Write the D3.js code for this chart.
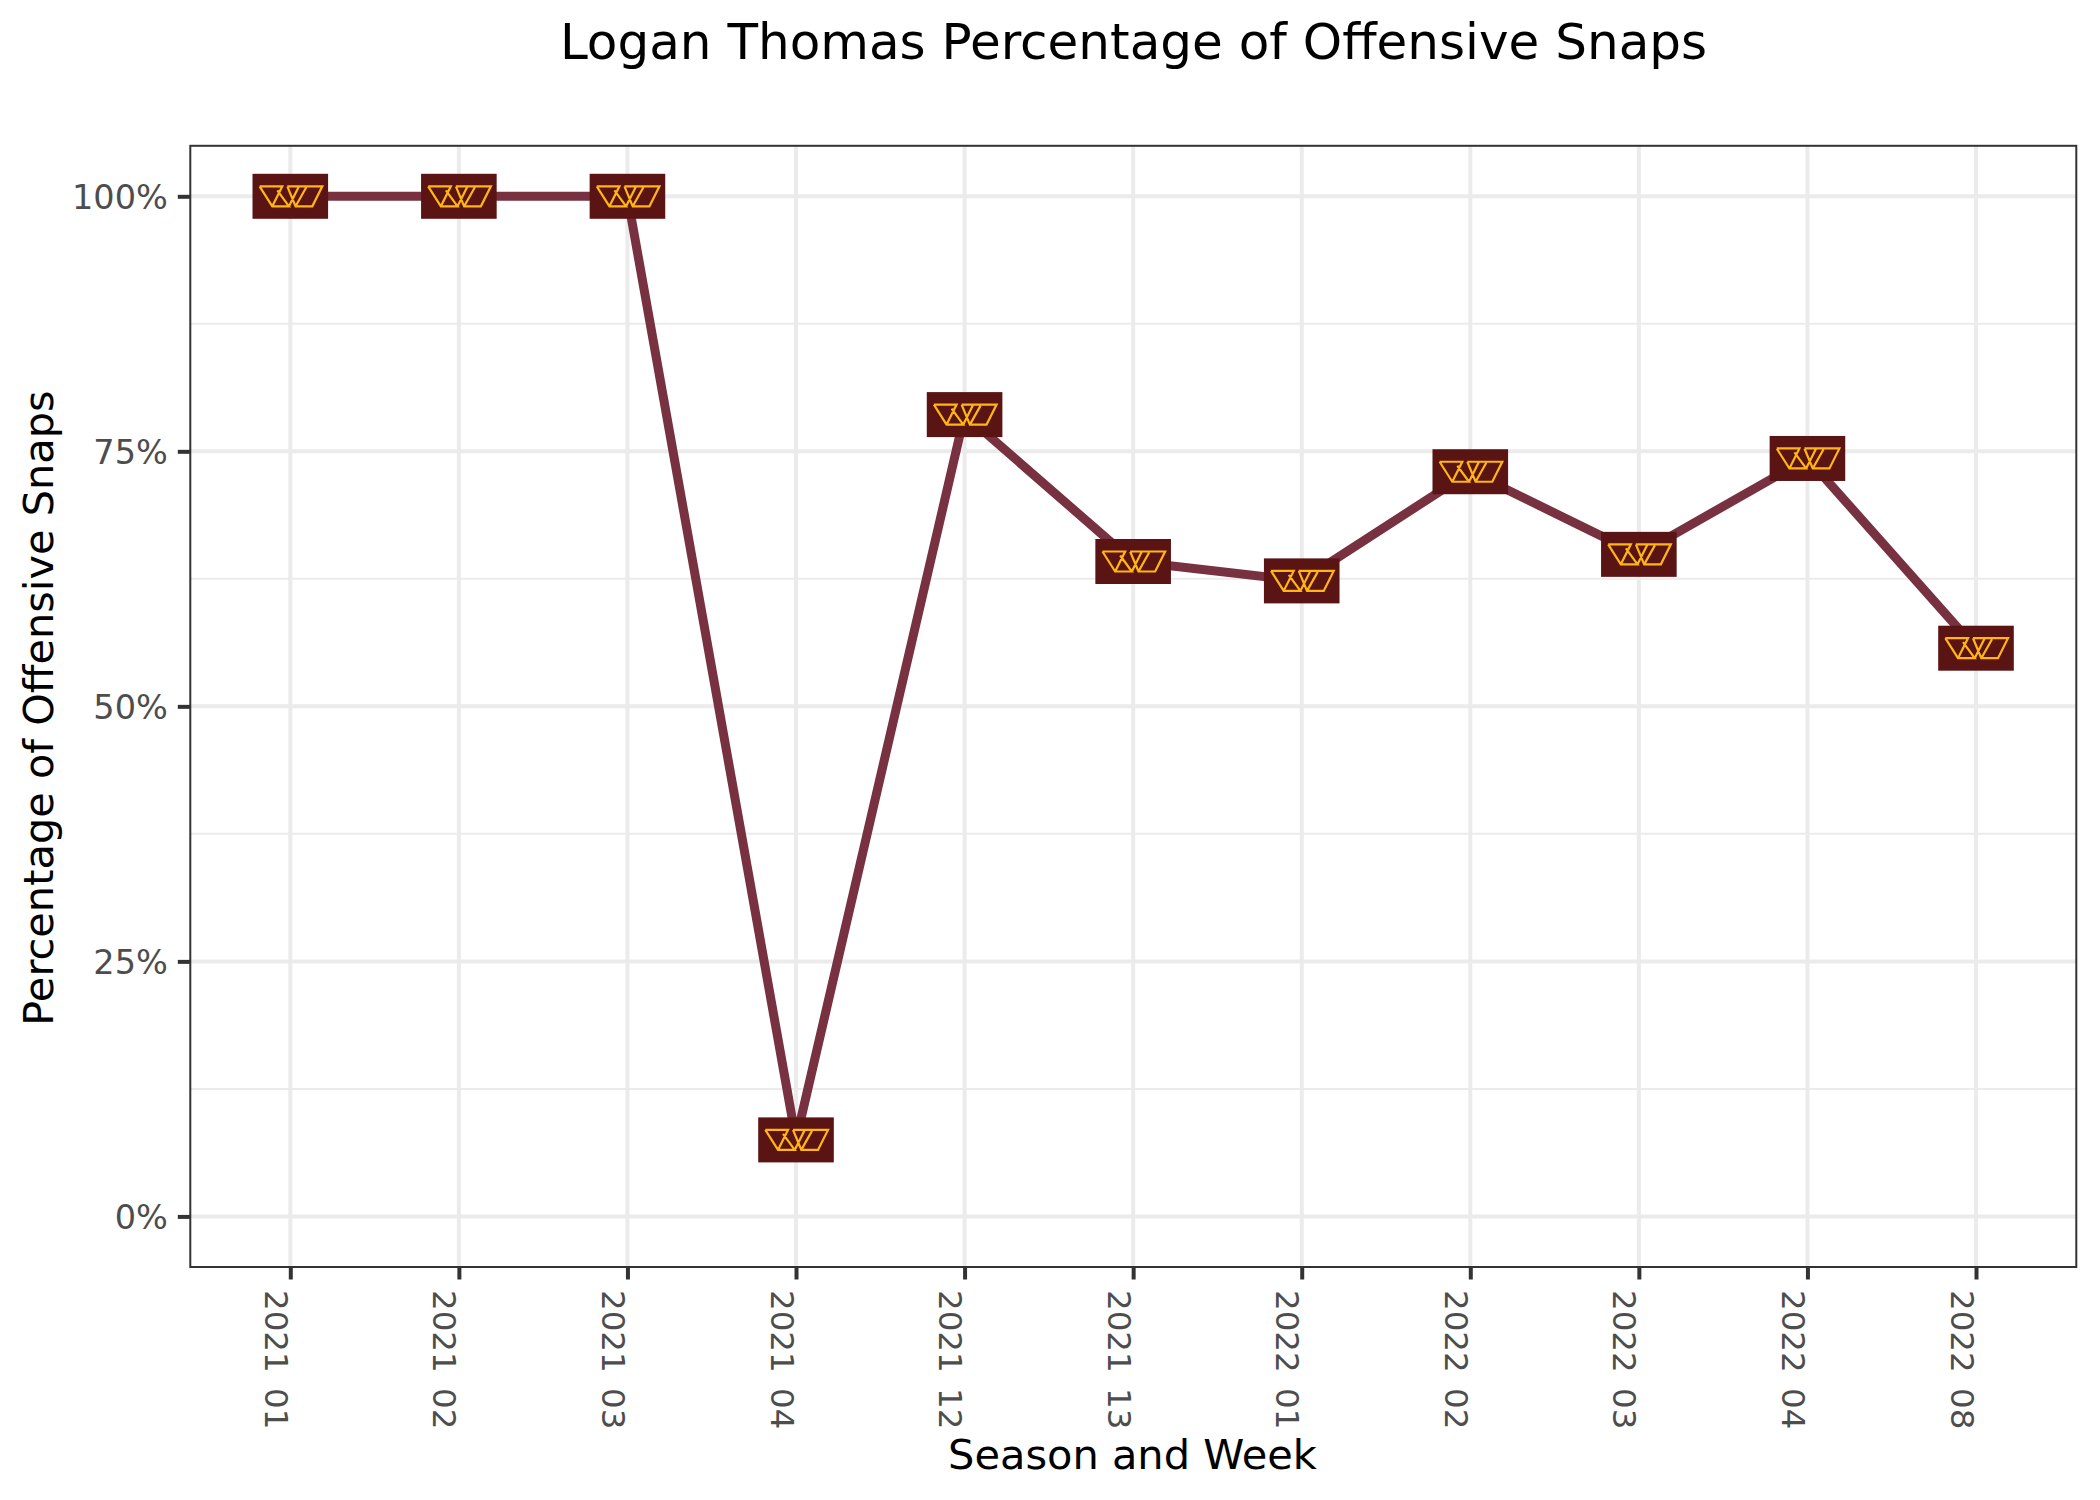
<!DOCTYPE html>
<html>
<head>
<meta charset="utf-8">
<script src="https://cdn.jsdelivr.net/npm/d3@7"></script>
<style>
  html, body { margin: 0; padding: 0; background: #fff; }
  text { font-family: "DejaVu Sans", sans-serif; }
</style>
</head>
<body>
<script>
let w = 2100;
let h = 1500;

// data
const weeks = ["2021 01","2021 02","2021 03","2021 04","2021 12","2021 13","2022 01","2022 02","2022 03","2022 04","2022 08"];
const snapPct = [100, 100, 100, 7.5, 78.6, 64.2, 62.3, 73, 64.9, 74.3, 55.7];
const yTicks = [0, 25, 50, 75, 100];
const yMinorTicks = [12.5, 37.5, 62.5, 87.5];

const chartTitle = "Logan Thomas Percentage of Offensive Snaps";
const xTitle = "Season and Week";
const yTitle = "Percentage of Offensive Snaps";

let panel = {left: 190.3, right: 2076.3, top: 145.8, bottom: 1267};

let x = d3.scalePoint().domain(weeks).range([290.3, 1976]);
let y = d3.scaleLinear().domain([0, 100]).range([1216.4, 196.3]);

let viz = d3.select("body")
  .append("svg")
    .attr("width", w)
    .attr("height", h)
    .style("display", "block")
;

// grid
let grid = viz.append("g").attr("class", "grid");

grid.selectAll(".minor").data(yMinorTicks).join("line")
    .attr("class", "minor")
    .attr("x1", panel.left).attr("x2", panel.right)
    .attr("y1", d => y(d)).attr("y2", d => y(d))
    .attr("stroke", "#ebebeb")
    .attr("stroke-width", 2)
;
grid.selectAll(".majorY").data(yTicks).join("line")
    .attr("class", "majorY")
    .attr("x1", panel.left).attr("x2", panel.right)
    .attr("y1", d => y(d)).attr("y2", d => y(d))
    .attr("stroke", "#ebebeb")
    .attr("stroke-width", 4)
;
grid.selectAll(".majorX").data(weeks).join("line")
    .attr("class", "majorX")
    .attr("x1", d => x(d)).attr("x2", d => x(d))
    .attr("y1", panel.top).attr("y2", panel.bottom)
    .attr("stroke", "#ebebeb")
    .attr("stroke-width", 4)
;

// line
let line = d3.line()
    .x((d, i) => x(weeks[i]))
    .y(d => y(d));

viz.append("path")
    .attr("d", line(snapPct))
    .attr("fill", "none")
    .attr("stroke", "#773141")
    .attr("stroke-width", 9)
    .attr("stroke-linejoin", "round")
;

// team logo markers
let logoW = 75.6;
let logoH = 45;
let logoPath = "M-30.7,-10H-8L-18,10 M-30.7,-10L-18,10H-1.3L-13,-6"
  + " M-1.3,10L8.7,-10 M-3,-10H32L22,10H5.3L-3,-10"
  + " M16,-9L5.3,10";

let markers = viz.append("g").attr("class", "markers")
  .selectAll("g").data(snapPct).join("g")
    .attr("transform", (d, i) => `translate(${x(weeks[i])},${y(d)})`)
;
markers.append("rect")
    .attr("x", -logoW / 2)
    .attr("y", -logoH / 2)
    .attr("width", logoW)
    .attr("height", logoH)
    .attr("fill", "#5a1414")
;
markers.append("path")
    .attr("d", logoPath)
    .attr("fill", "none")
    .attr("stroke", "#ffb612")
    .attr("stroke-width", 2.2)
;

// panel border
viz.append("rect")
    .attr("x", panel.left)
    .attr("y", panel.top)
    .attr("width", panel.right - panel.left)
    .attr("height", panel.bottom - panel.top)
    .attr("fill", "none")
    .attr("stroke", "#333333")
    .attr("stroke-width", 2)
;

// axes
let xAxis = viz.append("g")
    .attr("transform", `translate(0,${panel.bottom})`)
    .call(d3.axisBottom(x).tickSize(12.5).tickPadding(0));
let yAxis = viz.append("g")
    .attr("transform", `translate(${panel.left},0)`)
    .call(d3.axisLeft(y).tickValues(yTicks).tickSize(12.5).tickPadding(10).tickFormat(d => d + "%"));

xAxis.select(".domain").remove();
yAxis.select(".domain").remove();
viz.selectAll(".tick line").attr("stroke", "#333333").attr("stroke-width", 4);
viz.selectAll(".tick text").attr("fill", "#4d4d4d").style("font-size", "32.5px").style("font-family", '"DejaVu Sans"');
yAxis.selectAll(".tick text").attr("dy", "0.36em").style("font-size", "33.5px");

xAxis.selectAll(".tick text")
    .attr("text-anchor", "start")
    .attr("dy", 0)
    .attr("transform", "translate(-26,23) rotate(90)")
    .attr("x", 0)
    .attr("y", 0)
    .style("word-spacing", "5px")
;

// titles
viz.append("text")
    .attr("x", 1133.5)
    .attr("y", 59)
    .attr("text-anchor", "middle")
    .attr("font-size", 50)
    .attr("fill", "#000")
    .text(chartTitle)
;
viz.append("text")
    .attr("x", 1132.5)
    .attr("y", 1468.5)
    .attr("text-anchor", "middle")
    .attr("font-size", 41.5)
    .attr("fill", "#000")
    .text(xTitle)
;
viz.append("text")
    .attr("transform", "translate(53,708) rotate(-90)")
    .attr("text-anchor", "middle")
    .attr("font-size", 41.5)
    .attr("fill", "#000")
    .text(yTitle)
;
</script>
</body>
</html>
